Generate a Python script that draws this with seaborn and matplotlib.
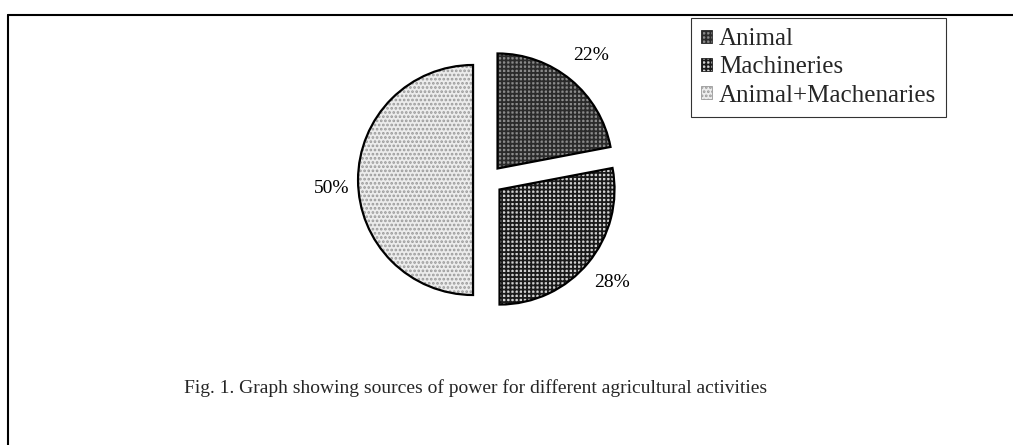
import matplotlib
matplotlib.use("Agg")
import matplotlib.pyplot as plt
from matplotlib.lines import Line2D
import seaborn as sns

# Sources of power for agricultural activities (percent of respondents)
sources = ["Animal", "Machineries", "Animal+Machenaries"]
shares = [22, 28, 50]
caption = "Fig. 1. Graph showing sources of power for different agricultural activities"

# Fill styles for each slice: base colour, hatch pattern, hatch colour
face_colors = ["#8a8a8a", "#d0d0d0", "#ececec"]
hatch_patterns = ["++++", "++++", "...."]
hatch_colors = ["#2b2b2b", "#1a1a1a", "#9a9a9a"]

sns.set_theme(style="white")
plt.rcParams["font.family"] = ["Liberation Serif", "DejaVu Serif"]
plt.rcParams["hatch.linewidth"] = 1.3

W, H = 1013, 445
fig = plt.figure(figsize=(W / 100, H / 100), dpi=100)

# Pie axes: centre at (488, 180) px, radius 115 px
cx, cy, r = 488, 180, 115
ax = fig.add_axes([(cx - 2 * r) / W, (H - cy - 1.5 * r) / H, 4 * r / W, 3 * r / H])

explode = [0.13, 0.13, 0.13]

# Hatched fills
fills, _ = ax.pie(shares, explode=explode, startangle=90, counterclock=False,
                  radius=1, wedgeprops=dict(linewidth=0))
for w, fc, hp, hc in zip(fills, face_colors, hatch_patterns, hatch_colors):
    w.set_facecolor(fc)
    w.set_hatch(hp)
    w.set_edgecolor(hc)
    w.set_linewidth(0)

# Outlines and percentage labels
outlines, _, pct = ax.pie(shares, explode=explode, startangle=90, counterclock=False,
                          radius=1, autopct="%d%%", pctdistance=1.27,
                          wedgeprops=dict(facecolor="none", edgecolor="black", linewidth=1.6),
                          textprops=dict(fontsize=14, color="black"))
# the large slice's label sits a little below its mid-line
x50, y50 = pct[2].get_position()
pct[2].set_position((x50 + 0.04, y50 - 0.07))

ax.set_xlim(-2, 2)
ax.set_ylim(-1.5, 1.5)
ax.set_aspect("equal")
ax.axis("off")

leg = fig.legend(fills, sources, loc="upper left",
                 bbox_to_anchor=(691 / W, 1 - 18 / H),
                 frameon=True, fancybox=False, fontsize=18,
                 handlelength=0.42, handleheight=0.42, handletextpad=0.3,
                 labelspacing=0.25, borderpad=0.4, borderaxespad=0)
leg.get_frame().set_edgecolor("black")
leg.get_frame().set_linewidth(0.8)
for h in leg.legend_handles:
    h.set_linewidth(0.6)

fig.text(476 / W, 1 - 388 / H, caption, ha="center", va="center", fontsize=14)

# Enclosing frame along the top and left edges
lw = 1.5
fig.add_artist(Line2D([8 / W, 1.0], [1 - 15 / H, 1 - 15 / H], color="black", lw=lw,
                      transform=fig.transFigure))
fig.add_artist(Line2D([8 / W, 8 / W], [1 - 15 / H, 0.0], color="black", lw=lw,
                      transform=fig.transFigure))

fig.savefig("out.png", dpi=100, facecolor="white")
